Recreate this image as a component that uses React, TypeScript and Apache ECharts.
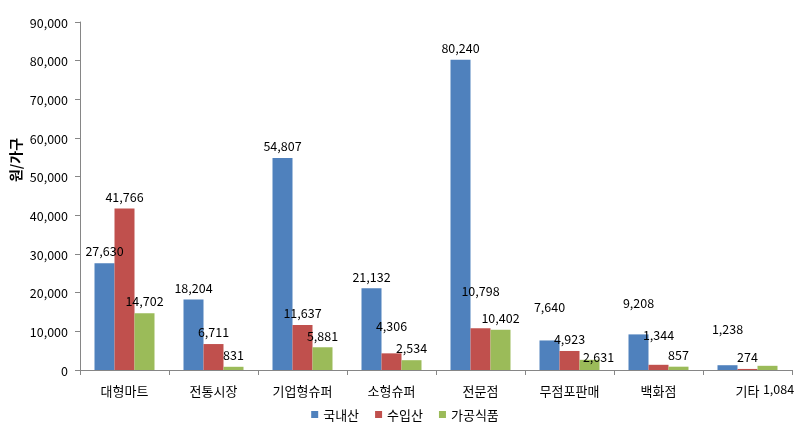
import React, { useEffect, useRef } from "react";
import * as echarts from "echarts";

const categories = ["대형마트", "전통시장", "기업형슈퍼", "소형슈퍼", "전문점", "무점포판매", "백화점", "기타"];
const seriesNames = ["국내산", "수입산", "가공식품"];
const domestic = [27630, 18204, 54807, 21132, 80240, 7640, 9208, 1238];
const imported = [41766, 6711, 11637, 4306, 10798, 4923, 1344, 274];
const processed = [14702, 831, 5881, 2534, 10402, 2631, 857, 1084];
const yTicks = [0, 10000, 20000, 30000, 40000, 50000, 60000, 70000, 80000, 90000];

// Manually moved data labels (as in the original spreadsheet chart): [dx, dy] in px
const labelShifts: Record<string, [number, number]> = {
  "1-3": [0, -16],
  "1-4": [0, -25],
  "0-5": [0, -22],
  "2-5": [9, 9],
  "0-6": [0, -20],
  "1-6": [0, -18],
  "0-7": [0, -24],
  "2-7": [11, 35],
};

const colors = ["#4F81BD", "#C0504D", "#9BBB59"];
const FONT = "'Noto Sans CJK KR', 'Noto Sans', sans-serif";

function fmt(v: number) {
  return v.toLocaleString("en-US");
}

export default function App() {
  const ref = useRef<HTMLDivElement>(null);
  useEffect(() => {
    if (!ref.current) return;
    const chart = echarts.init(ref.current, undefined, { renderer: "svg" });
    const all = [domestic, imported, processed];
    const series = all.map((vals, si) => ({
      name: seriesNames[si],
      type: "bar",
      barWidth: 20,
      barGap: "0%",
      itemStyle: { color: colors[si] },
      label: {
        show: true,
        position: "top",
        distance: 6,
        color: "#000",
        fontSize: 12.5,
        fontFamily: FONT,
        formatter: (p: any) => fmt(p.value),
      },
      data: vals.map((v, ci) => {
        const s = labelShifts[`${si}-${ci}`];
        return s ? { value: v, label: { offset: s } } : { value: v };
      }),
    }));
    chart.setOption({
      animation: false,
      textStyle: { fontFamily: FONT },
      grid: { left: 80, right: 18, top: 22, bottom: 61, containLabel: false },
      legend: {
        data: seriesNames,
        top: 403,
        left: "center",
        icon: "rect",
        itemWidth: 7,
        itemHeight: 7,
        itemGap: 16,
        textStyle: { fontSize: 13, color: "#000", fontFamily: FONT },
      },
      xAxis: {
        type: "category",
        data: categories,
        axisLine: { lineStyle: { color: "#868686" } },
        axisTick: { show: true, length: 5, lineStyle: { color: "#868686" } },
        axisLabel: { color: "#000", fontSize: 13, margin: 14, fontFamily: FONT, interval: 0 },
      },
      yAxis: {
        type: "value",
        min: yTicks[0],
        max: yTicks[yTicks.length - 1],
        interval: yTicks[1] - yTicks[0],
        axisLine: { show: true, lineStyle: { color: "#868686" } },
        axisTick: { show: true, length: 5, lineStyle: { color: "#868686" } },
        splitLine: { show: false },
        axisLabel: { color: "#000", fontSize: 12.5, margin: 12, fontFamily: FONT, formatter: (v: number) => fmt(v) },
      },
      graphic: [
        {
          type: "text",
          x: 15,
          y: 160,
          rotation: Math.PI / 2,
          style: {
            text: "원/가구",
            fontSize: 14,
            fontWeight: "bold",
            fontFamily: FONT,
            fill: "#000",
            align: "center",
            verticalAlign: "middle",
          },
        },
      ],
      series,
    });
    return () => chart.dispose();
  }, []);
  return <div ref={ref} style={{ position: "fixed", left: 0, top: 0, width: 810, height: 431 }} />;
}
